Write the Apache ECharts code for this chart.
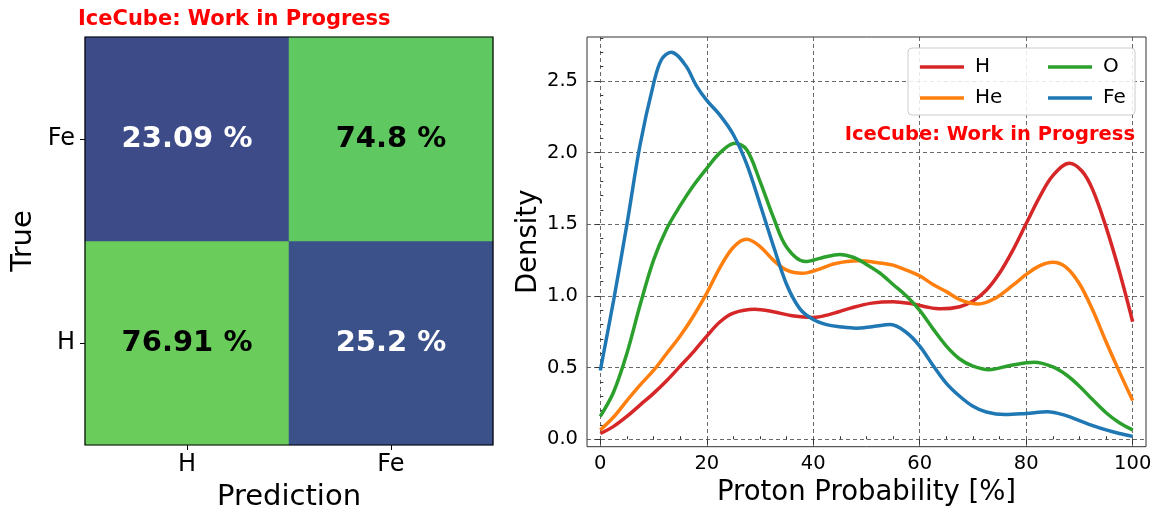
<!DOCTYPE html>
<html><head><meta charset="utf-8">
<script src="https://cdn.jsdelivr.net/npm/echarts@6/dist/echarts.min.js"></script>
<style>html,body{margin:0;padding:0;background:#fff}#c{width:1159px;height:513px}</style>
</head><body><div id="c"></div>
<script>
// ---------- confusion matrix data ----------
const cmPredCats = ['H', 'Fe'];
const cmTrueCats = ['H', 'Fe'];
const cmRowTrueH = [76.91, 25.2];   // true H, predicted H / Fe
const cmRowTrueFe = [23.09, 74.8];  // true Fe, predicted H / Fe

// ---------- density data (proton probability %, density) ----------
const seriesNames = ['H', 'He', 'O', 'Fe'];
const hX  = [0,2.5,5,7.5,10,12.5,15,17.5,20,22.5,25,29,32.5,36,40,43,47,51,55,58.5,61,64,67.5,70,72.5,75,77.5,80,82.5,85,88.1,90.5,92.5,95,97.5,100];
const hY  = [0.04,0.09,0.16,0.24,0.32,0.41,0.51,0.61,0.72,0.82,0.88,0.907,0.89,0.862,0.85,0.87,0.915,0.95,0.96,0.945,0.925,0.91,0.925,0.965,1.04,1.16,1.32,1.505,1.69,1.84,1.926,1.87,1.74,1.48,1.17,0.82];
const heX = [0,2.5,5,7.5,10,12.5,15,17.5,20,22.5,25,27.5,30,32.5,35,38,41,44,48.5,52.5,55,57.5,60,62.5,65,67.5,71,74,77.5,80,82.5,85,87.5,90,92.5,95,97.5,100];
const heY = [0.065,0.155,0.27,0.38,0.48,0.60,0.72,0.86,1.02,1.20,1.34,1.395,1.345,1.25,1.18,1.158,1.185,1.225,1.245,1.23,1.215,1.18,1.14,1.08,1.03,0.975,0.944,0.98,1.075,1.15,1.21,1.235,1.20,1.085,0.90,0.68,0.47,0.27];
const oX  = [0,2.5,5,7.5,10,12.5,15,17.5,20,22.5,25.3,27.5,30,32.5,35,38.5,41.5,45,47.5,50,52.5,55,57.5,60,62.5,65,67.5,70,73,77,81.5,85,87.5,90,92.5,95,97.5,100];
const oY  = [0.16,0.33,0.60,0.94,1.25,1.47,1.63,1.77,1.89,2.00,2.065,2.02,1.80,1.55,1.34,1.24,1.265,1.29,1.27,1.22,1.16,1.08,1.00,0.90,0.77,0.65,0.56,0.51,0.485,0.515,0.537,0.505,0.45,0.37,0.275,0.185,0.115,0.065];
const feX = [0,2.5,5,7.5,10,11.5,13.3,16,18,20,22.5,25,27.5,30,32.5,35,37.5,40,42.5,45,48,51,54.5,57.5,60,62.5,65,67.5,70,72.5,76,80,84,87.5,90,92.5,95,97.5,100];
const feY = [0.48,0.97,1.50,2.06,2.48,2.65,2.70,2.61,2.47,2.365,2.26,2.125,1.92,1.64,1.35,1.08,0.91,0.835,0.80,0.785,0.775,0.785,0.80,0.745,0.65,0.515,0.39,0.30,0.23,0.19,0.172,0.18,0.192,0.165,0.13,0.095,0.065,0.04,0.02];

// ---------- tick labels ----------
const xMajorTicks = [0, 20, 40, 60, 80, 100];
const xMinorTicks = [5,10,15,25,30,35,45,50,55,65,70,75,85,90,95];
const yMajorTicks = [0, 0.5, 1.0, 1.5, 2.0, 2.5];
const yMinorTicks = [0.1,0.2,0.3,0.4,0.6,0.7,0.8,0.9,1.1,1.2,1.3,1.4,1.6,1.7,1.8,1.9,2.1,2.2,2.3,2.4,2.6,2.7,2.8];

// ---------- styles ----------
const F = 'DejaVu Sans';
const lineColors = {H: '#d62728', He: '#ff7f0e', O: '#2ca02c', Fe: '#1f77b4'};
const viridis = ['#440154','#482878','#3e4989','#31688e','#26828e','#1f9e89','#35b779','#6ece58','#b5de2b','#fde725'];
const densData = {H: [hX, hY], He: [heX, heY], O: [oX, oY], Fe: [feX, feY]};

const heatData = [];
[cmRowTrueH, cmRowTrueFe].forEach((row, yi) => {
  row.forEach((v, xi) => {
    heatData.push({value: [xi, yi, v], label: {color: v > 50 ? '#000' : '#fff'}});
  });
});

const chart = echarts.init(document.getElementById('c'), null, {renderer: 'canvas'});
const option = {
  animation: false,
  backgroundColor: '#fff',
  textStyle: {fontFamily: F},
  grid: [
    {left: 85, top: 37, width: 408, height: 408, outerBoundsMode: 'none'},
    {left: 587, top: 37, right: 13, bottom: 66.3, show: true, borderColor: '#333', borderWidth: 1, outerBoundsMode: 'none'}
  ],
  xAxis: [
    {gridIndex: 0, type: 'category', data: cmPredCats, name: 'Prediction', nameLocation: 'middle', nameGap: 38,
     nameTextStyle: {fontSize: 29, color: '#000', fontFamily: F},
     axisLine: {show: false}, axisTick: {show: true, alignWithLabel: true, length: 5, lineStyle: {color: '#000'}},
     axisLabel: {fontSize: 24, color: '#000', margin: 8, fontFamily: F}, splitLine: {show: false}},
    {gridIndex: 1, type: 'value', min: -2.5, max: 102.5, name: 'Proton Probability [%]', nameLocation: 'middle', nameGap: 32,
     nameTextStyle: {fontSize: 27.5, color: '#000', fontFamily: F},
     axisLine: {show: false},
     axisTick: {show: true, customValues: xMajorTicks, length: 5, lineStyle: {color: '#333'}},
     axisLabel: {customValues: xMajorTicks, fontSize: 19.5, color: '#000', margin: 7, fontFamily: F},
     splitLine: {show: true, lineStyle: {color: '#444', width: 0.8, type: [4, 3]}}},
    {gridIndex: 1, type: 'value', min: -2.5, max: 102.5,
     axisLine: {show: false}, axisLabel: {show: false}, splitLine: {show: false},
     axisTick: {show: true, customValues: xMinorTicks, length: 3, lineStyle: {color: '#333'}}}
  ],
  yAxis: [
    {gridIndex: 0, type: 'category', data: cmTrueCats, name: 'True', nameLocation: 'middle', nameGap: 47,
     nameTextStyle: {fontSize: 29, color: '#000', fontFamily: F},
     axisLine: {show: false}, axisTick: {show: true, alignWithLabel: true, length: 5, lineStyle: {color: '#000'}},
     axisLabel: {fontSize: 24, color: '#000', margin: 10, fontFamily: F}, splitLine: {show: false}},
    {gridIndex: 1, type: 'value', min: -0.052, max: 2.807, name: 'Density', nameLocation: 'middle', nameGap: 43,
     nameTextStyle: {fontSize: 27.5, color: '#000', fontFamily: F},
     axisLine: {show: false},
     axisTick: {show: true, customValues: yMajorTicks, length: 5, lineStyle: {color: '#333'}},
     axisLabel: {customValues: yMajorTicks, fontSize: 19.5, color: '#000', margin: 9, fontFamily: F,
                 formatter: v => v.toFixed(1)},
     splitLine: {show: true, lineStyle: {color: '#444', width: 0.8, type: [4, 3]}}},
    {gridIndex: 1, type: 'value', min: -0.052, max: 2.807,
     axisLine: {show: false}, axisLabel: {show: false}, splitLine: {show: false},
     axisTick: {show: true, customValues: yMinorTicks, length: 3, lineStyle: {color: '#333'}}}
  ],
  visualMap: {show: false, type: 'continuous', min: 0, max: 100, seriesIndex: 0, inRange: {color: viridis}},
  legend: [
    {data: ['H', 'He'], orient: 'vertical', left: 915, top: 52, itemGap: 11, itemWidth: 44, itemHeight: 3.5, icon: 'rect',
     textStyle: {fontSize: 20, color: '#000', fontFamily: F, padding: [0, 0, 0, 6]}, z: 10},
    {data: ['O', 'Fe'], orient: 'vertical', left: 1043, top: 52, itemGap: 11, itemWidth: 44, itemHeight: 3.5, icon: 'rect',
     textStyle: {fontSize: 20, color: '#000', fontFamily: F, padding: [0, 0, 0, 6]}, z: 10}
  ],
  graphic: [
    {type: 'rect', shape: {x: 85, y: 37, width: 408, height: 408}, style: {fill: 'transparent', stroke: '#000', lineWidth: 1.2}, z: 100, silent: true},
    {type: 'rect', shape: {x: 908, y: 48, width: 227, height: 67, r: 4}, style: {fill: 'rgba(255,255,255,0.85)', stroke: '#ccc', lineWidth: 1}, z: 5, silent: true},
    {type: 'text', x: 78, y: 19.5, style: {text: 'IceCube: Work in Progress', fill: '#ff0000', font: 'bold 21px "DejaVu Sans"', textVerticalAlign: 'middle'}, z: 100},
    {type: 'text', x: 1135, y: 134.5, style: {text: 'IceCube: Work in Progress', fill: '#ff0000', font: 'bold 19.5px "DejaVu Sans"', textAlign: 'right', textVerticalAlign: 'middle'}, z: 100}
  ],
  series: [
    {type: 'heatmap', xAxisIndex: 0, yAxisIndex: 0, data: heatData,
     label: {show: true, fontSize: 29, fontWeight: 'bold', fontFamily: F, formatter: p => p.value[2] + ' %'},
     emphasis: {disabled: true}}
  ].concat(seriesNames.map(n => ({
    type: 'line', name: n, xAxisIndex: 1, yAxisIndex: 1, smooth: 0.35, showSymbol: false, symbol: 'none',
    color: lineColors[n], lineStyle: {width: 3.5, color: lineColors[n]},
    data: densData[n][0].map((x, i) => [x, densData[n][1][i]]), z: 3
  })))
};
chart.setOption(option);
</script>
</body></html>
